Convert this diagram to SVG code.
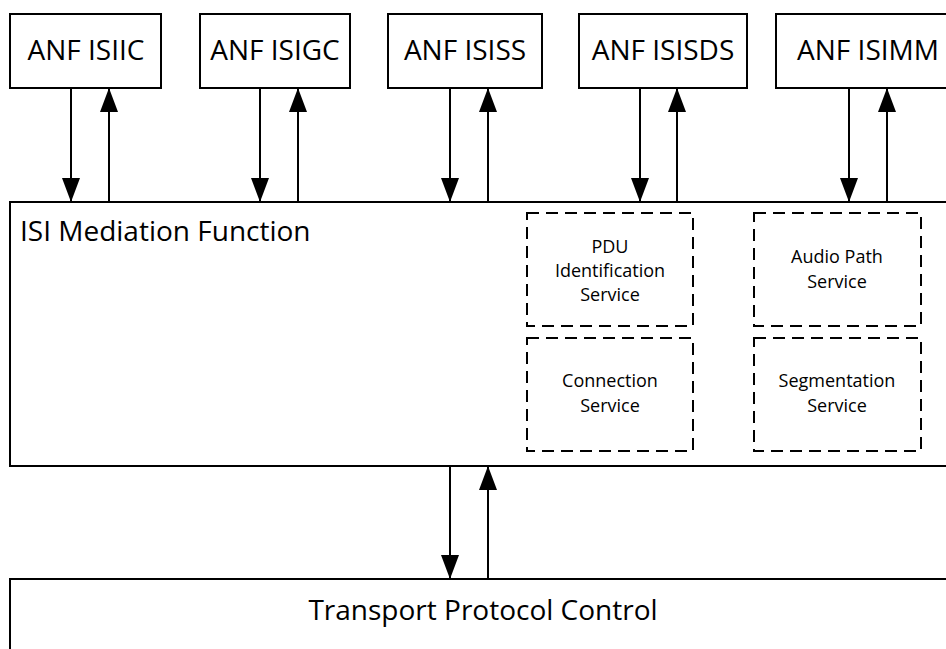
<svg xmlns="http://www.w3.org/2000/svg" width="946" height="649" viewBox="0 0 946 649">
<style>
.box{fill:#fff;stroke:#000;stroke-width:2}
.dash{fill:none;stroke:#000;stroke-width:2;stroke-dasharray:12 7}
.big{font-family:"Open Sans","Liberation Sans",sans-serif;font-size:28px;fill:#000}
.small{font-family:"Open Sans","Liberation Sans",sans-serif;font-size:18px;fill:#000;text-anchor:middle}
.c{text-anchor:middle}
.ln{stroke:#000;stroke-width:2;fill:none;marker-end:url(#ah)}
</style>
<defs>
<marker id="ah" markerUnits="userSpaceOnUse" markerWidth="24" markerHeight="18" viewBox="0 0 24 18" refX="24" refY="9" orient="auto">
<path d="M0,0 L24,9 L0,18 Z" fill="#000"/>
</marker>
</defs>
<rect width="946" height="649" fill="#fff"/>
<g id="isi-mediation">
<rect class="box" x="10" y="202" width="960" height="264"/>
<text class="big" x="20" y="241">ISI Mediation Function</text>
</g>
<g id="transport">
<rect class="box" x="10" y="579" width="960" height="100"/>
<text class="big c" x="483" y="620">Transport Protocol Control</text>
</g>
<g id="anf-isiic">
<rect class="box" x="10" y="14" width="151" height="74"/>
<text class="big c" x="86" y="60">ANF ISIIC</text>
</g>
<g id="anf-isigc">
<rect class="box" x="200" y="14" width="150" height="74"/>
<text class="big c" x="275" y="60">ANF ISIGC</text>
</g>
<g id="anf-isiss">
<rect class="box" x="388" y="14" width="154" height="74"/>
<text class="big c" x="465" y="60">ANF ISISS</text>
</g>
<g id="anf-isisds">
<rect class="box" x="579" y="14" width="168" height="74"/>
<text class="big c" x="663" y="60">ANF ISISDS</text>
</g>
<g id="anf-isimm">
<rect class="box" x="776" y="14" width="184" height="74"/>
<text class="big c" x="868" y="60">ANF ISIMM</text>
</g>
<g id="pdu">
<rect class="dash" x="527" y="213" width="166" height="113"/>
<text class="small" x="610" y="253">PDU</text>
<text class="small" x="610" y="277">Identification</text>
<text class="small" x="610" y="301">Service</text>
</g>
<g id="connection">
<rect class="dash" x="527" y="338" width="166" height="113"/>
<text class="small" x="610" y="387">Connection</text>
<text class="small" x="610" y="412">Service</text>
</g>
<g id="audio-path">
<rect class="dash" x="754" y="213" width="167" height="113"/>
<text class="small" x="837" y="263">Audio Path</text>
<text class="small" x="837" y="288">Service</text>
</g>
<g id="segmentation">
<rect class="dash" x="754" y="338" width="167" height="113"/>
<text class="small" x="837" y="387">Segmentation</text>
<text class="small" x="837" y="412">Service</text>
</g>
<g id="connectors">
<line class="ln" x1="71" y1="88" x2="71" y2="202"/>
<line class="ln" x1="109" y1="202" x2="109" y2="88"/>
<line class="ln" x1="260" y1="88" x2="260" y2="202"/>
<line class="ln" x1="298" y1="202" x2="298" y2="88"/>
<line class="ln" x1="450" y1="88" x2="450" y2="202"/>
<line class="ln" x1="488" y1="202" x2="488" y2="88"/>
<line class="ln" x1="640" y1="88" x2="640" y2="202"/>
<line class="ln" x1="677" y1="202" x2="677" y2="88"/>
<line class="ln" x1="849" y1="88" x2="849" y2="202"/>
<line class="ln" x1="887" y1="202" x2="887" y2="88"/>
<line class="ln" x1="450" y1="466" x2="450" y2="579"/>
<line class="ln" x1="488" y1="579" x2="488" y2="466"/>
</g>
</svg>
